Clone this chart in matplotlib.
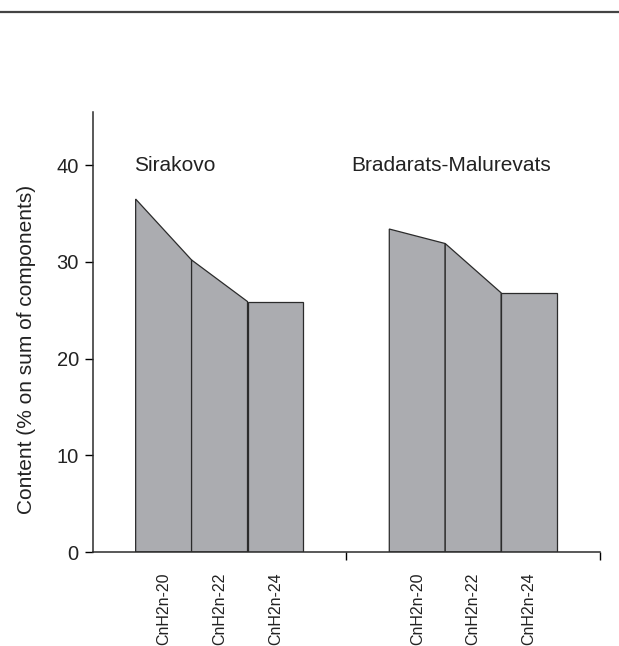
import matplotlib
matplotlib.use("Agg")
import matplotlib.pyplot as plt
from matplotlib.lines import Line2D

plt.rcParams['font.family'] = ['Liberation Sans', 'DejaVu Sans']

sites = ["Sirakovo", "Bradarats-Malurevats"]
components = ["CnH2n-20", "CnH2n-22", "CnH2n-24"]
sirakovo = [36.5, 30.2, 25.9]
bradarats = [33.4, 31.9, 26.8]
yticks = [0, 10, 20, 30, 40]

fill_color = "#abacb0"
edge_color = "#2b2b2b"
text_color = "#222222"

fig = plt.figure(figsize=(6.19, 6.46), dpi=100)
ax = fig.add_axes([0.1498, 0.1455, 0.8195, 0.6811])

width = 0.2205
series = [sirakovo, bradarats]
centers = []
for g, vals in enumerate(series):
    start = g + 0.5 - 1.5 * width
    for i, v in enumerate(vals):
        left = start + i * width
        right = left + width
        v_next = vals[i + 1] if i + 1 < len(vals) else v
        ax.fill([left, left, right, right], [0, v, v_next, 0],
                facecolor=fill_color, edgecolor=edge_color, linewidth=0.9,
                joinstyle="miter", zorder=2)
        centers.append(left + width / 2)

ax.text(0.5 - 1.5 * width - 0.005, 40, sites[0], fontsize=15,
        va="center", ha="left", color=text_color)
ax.text(1.021, 40, sites[1], fontsize=15, va="center", ha="left",
        color=text_color)

ax.set_xlim(0, 2)
ax.set_ylim(0, 45.5)
ax.set_yticks(yticks)
ax.set_yticklabels([str(t) for t in yticks], fontsize=14.5, color=text_color)
ax.set_ylabel("Content (% on sum of components)", fontsize=15,
              color=text_color)
ax.yaxis.set_label_coords(-0.112, 0.46)

ax.set_xticks([1, 2])
ax.set_xticklabels(["", ""])
ax.set_xticks(centers, minor=True)
ax.set_xticklabels(components * 2, minor=True, rotation=90, fontsize=11.5,
                   color=text_color, va="top", ha="center")
ax.tick_params(axis="x", which="minor", length=0, pad=15)
ax.tick_params(axis="x", which="major", length=6, width=1.0, direction="out")
ax.tick_params(axis="y", length=6, width=1.0, direction="out", pad=4)

for side in ("top", "right"):
    ax.spines[side].set_visible(False)
for side in ("left", "bottom"):
    ax.spines[side].set_linewidth(1.1)
    ax.spines[side].set_color(edge_color)

fig.add_artist(Line2D([0, 1], [1 - 11.5 / 646, 1 - 11.5 / 646],
                      transform=fig.transFigure, color="#444444", linewidth=1.6))

fig.savefig("out.png", dpi=100)
